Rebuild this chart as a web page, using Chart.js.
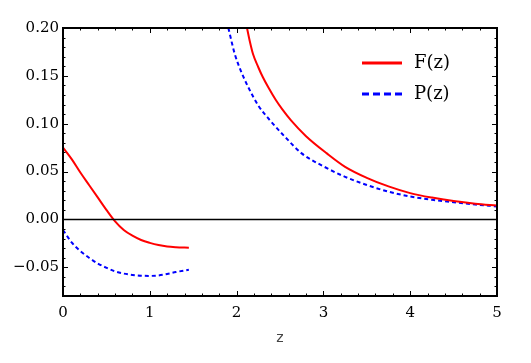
<!DOCTYPE html>
<html>
<head>
<meta charset="utf-8">
<script src="https://cdn.jsdelivr.net/npm/chart.js@4.4.1/dist/chart.umd.min.js"></script>
<style>
  html, body { margin: 0; padding: 0; background: #fff; }
</style>
</head>
<body>
<canvas id="chart" width="531" height="363"></canvas>
<script>
// values; null marks the break between the two branches
const zF = [0, 0.1, 0.2, 0.3, 0.4, 0.5, 0.6, 0.7, 0.8, 0.9, 1.0, 1.1, 1.2, 1.3, 1.45,
  1.7,
  2.12, 2.15, 2.19, 2.25, 2.3, 2.365, 2.45, 2.527, 2.627, 2.8, 3.04, 3.25, 3.5, 3.75, 4.0, 4.25, 4.5, 4.75, 5.0];
const fVals = [0.075, 0.063, 0.049, 0.036, 0.023, 0.010, -0.002, -0.011, -0.017, -0.0215, -0.0245, -0.0268, -0.0283, -0.029, -0.0295,
  null,
  0.200, 0.187, 0.1725, 0.159, 0.149, 0.138, 0.125, 0.115, 0.1035, 0.087, 0.069, 0.055, 0.0435, 0.0345, 0.0275, 0.0228, 0.0192, 0.0165, 0.0145];

const zP = [0, 0.1, 0.2, 0.3, 0.4, 0.5, 0.6, 0.7, 0.8, 0.9, 1.0, 1.1, 1.2, 1.3, 1.45,
  1.7,
  1.905, 1.98, 2.05, 2.135, 2.25, 2.385, 2.55, 2.75, 3.0, 3.25, 3.5, 3.75, 4.0, 4.25, 4.5, 4.75, 5.0];
const pVals = [-0.011, -0.024, -0.033, -0.040, -0.046, -0.0505, -0.0543, -0.0566, -0.058, -0.0588, -0.059, -0.0585, -0.057, -0.055, -0.0525,
  null,
  0.200, 0.1725, 0.155, 0.138, 0.119, 0.1035, 0.087, 0.069, 0.0555, 0.0445, 0.036, 0.029, 0.024, 0.0205, 0.0179, 0.0156, 0.0136];

const seriesNames = ["F(z)", "P(z)"];
const serif = "'DejaVu Serif', 'Liberation Serif', serif";

function pts(xs, ys) {
  return xs.map((x, i) => ({ x: x, y: ys[i] }));
}

// frame, zero line, inward ticks on all four sides, legend in the corner
const framePlugin = {
  id: "frame",
  afterDraw(chart) {
    const ctx = chart.ctx;
    const a = chart.chartArea;
    const sx = chart.scales.x;
    const sy = chart.scales.y;
    const L = a.left, R = a.right, T = a.top, B = a.bottom;

    ctx.save();
    ctx.strokeStyle = "#000000";
    ctx.lineWidth = 2;
    ctx.beginPath();
    ctx.moveTo(L, T); ctx.lineTo(R, T); ctx.lineTo(R, B); ctx.lineTo(L, B); ctx.closePath();
    ctx.stroke();
    ctx.restore();

    ctx.save();
    const y0 = Math.round(sy.getPixelForValue(0)) + 0.5;
    ctx.strokeStyle = "#000000";
    ctx.lineWidth = 1.6;
    ctx.beginPath();
    ctx.moveTo(L, y0);
    ctx.lineTo(R, y0);
    ctx.stroke();
    ctx.restore();

    ctx.save();
    ctx.strokeStyle = "#000000";
    ctx.lineWidth = 1;
    for (let i = 0; i <= 25; i++) {
      const len = i % 5 === 0 ? 5 : 2.5;
      const px = Math.round(sx.getPixelForValue(i * 0.2)) + 0.5;
      ctx.beginPath();
      ctx.moveTo(px, B); ctx.lineTo(px, B - len);
      ctx.moveTo(px, T); ctx.lineTo(px, T + len);
      ctx.stroke();
    }
    for (let i = -8; i <= 20; i++) {
      const len = i % 5 === 0 ? 5 : 2.5;
      const py = Math.round(sy.getPixelForValue(i * 0.01)) + 0.5;
      ctx.beginPath();
      ctx.moveTo(L, py); ctx.lineTo(L + len, py);
      ctx.moveTo(R, py); ctx.lineTo(R - len, py);
      ctx.stroke();
    }
    ctx.restore();

    const rows = [
      { y: 63, color: "#ff0000", dash: [] },
      { y: 94, color: "#0000ff", dash: [7, 4] }
    ];
    ctx.save();
    ctx.font = "18px " + serif;
    ctx.textBaseline = "middle";
    ctx.fillStyle = "#000";
    rows.forEach((r, i) => {
      ctx.strokeStyle = r.color;
      ctx.lineWidth = 3;
      ctx.setLineDash(r.dash);
      ctx.beginPath();
      ctx.moveTo(362, r.y);
      ctx.lineTo(402, r.y);
      ctx.stroke();
      ctx.setLineDash([]);
      ctx.fillText(seriesNames[i], 414, r.y);
    });
    ctx.restore();
  }
};

new Chart(document.getElementById("chart"), {
  type: "line",
  data: {
    datasets: [
      {
        label: seriesNames[0],
        data: pts(zF, fVals),
        borderColor: "#ff0000",
        borderWidth: 2,
        pointRadius: 0,
        cubicInterpolationMode: "monotone"
      },
      {
        label: seriesNames[1],
        data: pts(zP, pVals),
        borderColor: "#0000ff",
        borderWidth: 2,
        borderDash: [4, 3],
        pointRadius: 0,
        cubicInterpolationMode: "monotone"
      }
    ]
  },
  options: {
    responsive: false,
    animation: false,
    layout: { padding: { top: 28, right: 34, left: 0, bottom: 0 } },
    plugins: { legend: { display: false }, tooltip: { enabled: false } },
    scales: {
      x: {
        type: "linear",
        min: 0,
        max: 5,
        grid: { display: false, drawTicks: false },
        border: { display: true, color: "#000", width: 2 },
        ticks: { stepSize: 1, padding: 8, color: "#000", font: { family: serif, size: 15 }, maxRotation: 0 },
        title: {
          display: true,
          text: "z",
          color: "#444",
          font: { family: "'DejaVu Sans', sans-serif", size: 14 },
          padding: { top: 4, bottom: 16 }
        },
        afterFit(scale) { scale.height = 67; }
      },
      y: {
        type: "linear",
        min: -0.08,
        max: 0.2,
        grid: { display: false, drawTicks: false },
        border: { display: true, color: "#000", width: 2 },
        ticks: {
          stepSize: 0.05,
          includeBounds: false,
          padding: 4,
          color: "#000",
          font: { family: serif, size: 15 },
          callback: v => (v < 0 ? "\u2212" : "") + Math.abs(v).toFixed(2)
        },
        afterFit(scale) { scale.width = 63; }
      }
    }
  },
  plugins: [framePlugin]
});
</script>
</body>
</html>
